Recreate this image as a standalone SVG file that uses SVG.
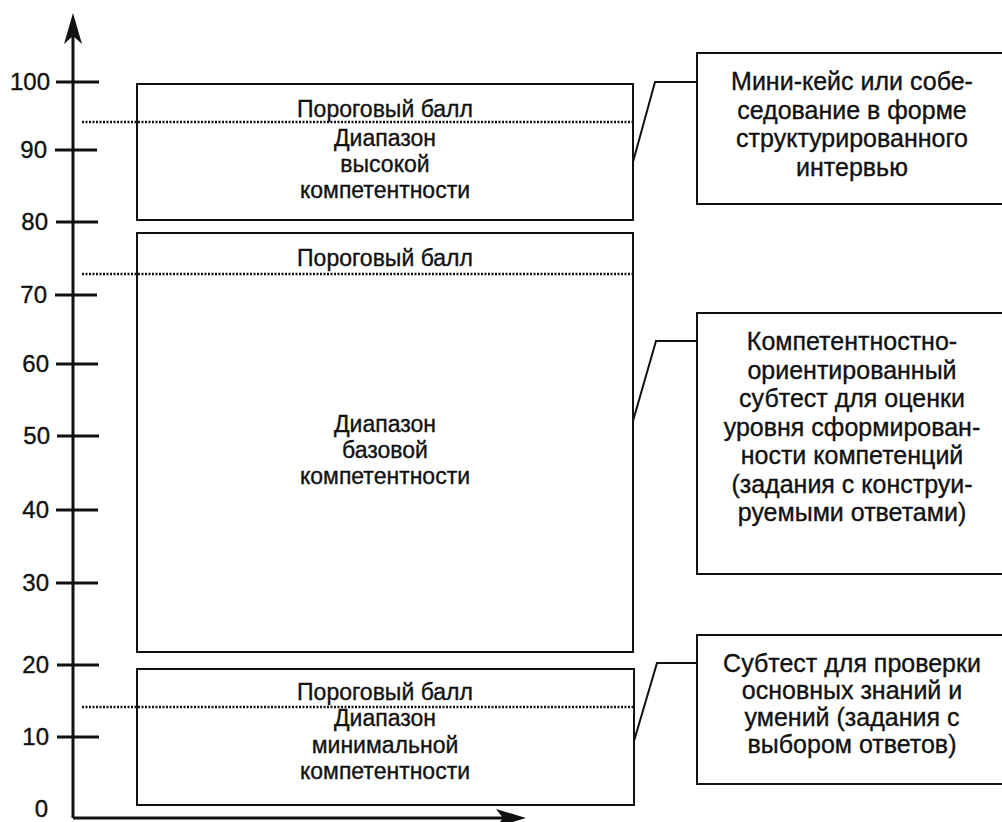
<svg xmlns="http://www.w3.org/2000/svg" width="1002" height="822" viewBox="0 0 1002 822">
<style>
text{font-family:"Liberation Sans",Arial,sans-serif;fill:#111;stroke:#111;stroke-width:0.35;text-anchor:middle}
.lbl{font-size:23px}
.rt{font-size:25px}
.tk{font-size:24px;text-anchor:end}
.box{fill:#fff;stroke:#111;stroke-width:2}
.ax{stroke:#111;stroke-width:3;fill:none}
.dot{stroke:#111;stroke-width:2.5;stroke-dasharray:2 1.5;fill:none}
.con{stroke:#111;stroke-width:2;fill:none}
</style>
<rect width="1002" height="822" fill="#fff"/>
<g id="axes">
<line class="ax" x1="73" y1="818" x2="73" y2="20"/>
<path d="M73,13 L82,44 L73,36 L64,44 Z" fill="#111"/>
<line class="ax" x1="73" y1="818" x2="515" y2="818"/>
<path d="M526,818 L496,809 L503,818 L496,827 Z" fill="#111"/>
<g class="ax">
<line x1="56" y1="82" x2="99" y2="82"/>
<line x1="55" y1="150" x2="97" y2="150"/>
<line x1="56" y1="222" x2="98" y2="222"/>
<line x1="55" y1="295" x2="97" y2="295"/>
<line x1="56" y1="364" x2="98" y2="364"/>
<line x1="57" y1="436" x2="99" y2="436"/>
<line x1="56" y1="510" x2="98" y2="510"/>
<line x1="56" y1="583" x2="98" y2="583"/>
<line x1="57" y1="665" x2="99" y2="665"/>
<line x1="57" y1="737" x2="99" y2="737"/>
</g>
<text class="tk" x="50" y="90">100</text>
<text class="tk" x="47" y="158">90</text>
<text class="tk" x="48" y="230">80</text>
<text class="tk" x="47" y="303">70</text>
<text class="tk" x="49" y="372">60</text>
<text class="tk" x="50" y="444">50</text>
<text class="tk" x="49" y="518">40</text>
<text class="tk" x="49" y="591">30</text>
<text class="tk" x="49" y="673">20</text>
<text class="tk" x="49" y="745">10</text>
<text class="tk" x="48" y="817">0</text>
</g>
<g id="range-high">
<rect class="box" x="137" y="84" width="496" height="136"/>
<line class="dot" x1="82" y1="122" x2="633" y2="122"/>
<text class="lbl" x="385" y="117">Пороговый балл</text>
<text class="lbl" x="385" y="146">Диапазон</text>
<text class="lbl" x="385" y="172">высокой</text>
<text class="lbl" x="385" y="198">компетентности</text>
</g>
<g id="range-base">
<rect class="box" x="137" y="233" width="496" height="419"/>
<line class="dot" x1="82" y1="274" x2="633" y2="274"/>
<text class="lbl" x="385" y="266">Пороговый балл</text>
<text class="lbl" x="385" y="432">Диапазон</text>
<text class="lbl" x="385" y="458">базовой</text>
<text class="lbl" x="385" y="484">компетентности</text>
</g>
<g id="range-min">
<rect class="box" x="137" y="669" width="497" height="136"/>
<line class="dot" x1="82" y1="707" x2="634" y2="707"/>
<text class="lbl" x="385" y="700">Пороговый балл</text>
<text class="lbl" x="385" y="726">Диапазон</text>
<text class="lbl" x="385" y="753">минимальной</text>
<text class="lbl" x="385" y="779">компетентности</text>
</g>
<g id="method-interview">
<rect class="box" x="697" y="53" width="320" height="151"/>
<text class="rt" x="852" y="90">Мини-кейс или собе-</text>
<text class="rt" x="852" y="118.5">седование в форме</text>
<text class="rt" x="852" y="147">структурированного</text>
<text class="rt" x="852" y="175.5">интервью</text>
</g>
<g id="method-constructed">
<rect class="box" x="697" y="313" width="320" height="261"/>
<text class="rt" x="852" y="350">Компетентностно-</text>
<text class="rt" x="852" y="378.5">ориентированный</text>
<text class="rt" x="852" y="407">субтест для оценки</text>
<text class="rt" x="852" y="435.5">уровня сформирован-</text>
<text class="rt" x="852" y="464">ности компетенций</text>
<text class="rt" x="852" y="492.5">(задания с конструи-</text>
<text class="rt" x="852" y="521">руемыми ответами)</text>
</g>
<g id="method-choice">
<rect class="box" x="697" y="635" width="320" height="149"/>
<text class="rt" x="852" y="672">Субтест для проверки</text>
<text class="rt" x="852" y="699">основных знаний и</text>
<text class="rt" x="852" y="726">умений (задания с</text>
<text class="rt" x="852" y="753">выбором ответов)</text>
</g>
<g id="connectors">
<polyline class="con" points="633,162 655,82 697,82"/>
<polyline class="con" points="633,421 656,341 697,341"/>
<polyline class="con" points="634,741 657,663 697,663"/>
</g>
</svg>
